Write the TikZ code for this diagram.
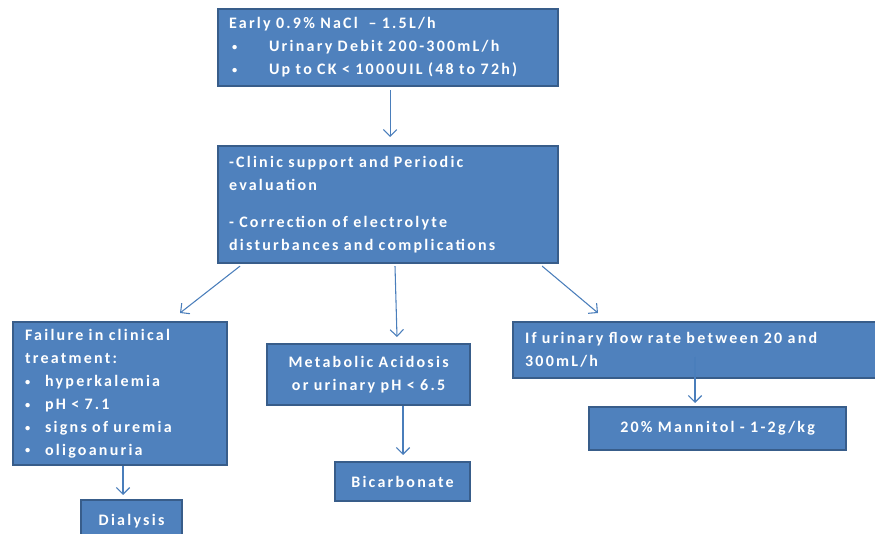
\documentclass[tikz,border=0pt]{standalone}
\usepackage{fontspec}
\newfontfamily\boxfont[LetterSpace=14]{Carlito}
\usepackage{tikz}
\usetikzlibrary{calc, arrows.meta}
\definecolor{boxblue}{HTML}{4F81BD}
\definecolor{boxedge}{HTML}{385D8A}
\definecolor{arrowblue}{HTML}{4A7EBB}
\newcommand{\boxtext}{\boxfont\bfseries\fontsize{12}{17.2}\selectfont\setlength{\spaceskip}{5.5pt plus 1pt}}
\newcommand{\bul}[1]{\makebox[#1][l]{\raisebox{0.15ex}{\scalebox{0.65}{•}}}}

\begin{document}
\begin{tikzpicture}[x=0.75pt, y=-0.75pt,
  box/.style={draw=boxedge, fill=boxblue, line width=1.6pt, text=white, anchor=north west,
    inner ysep=0pt, inner xsep=7.5pt, font=\boxtext},
  link/.style={arrowblue, line width=0.8pt, -{Straight Barb[length=5pt,width=10pt]}}]
\useasboundingbox (0,0) rectangle (875,534);

\node[box, align=left, inner xsep=8.25pt, text width=238.5pt, minimum height=57.75pt] (fluid) at (217,8)
  {Early 0.9\% NaCl\ \ – 1.5L/h\\
   \hspace{2.25pt}\bul{27.75pt}Urinary Debit 200-300mL/h\\
   \hspace{2.25pt}\bul{27.75pt}Up to CK < 1000UIL (48 to 72h)};
\node[box, align=left, inner xsep=8.25pt, text width=238.5pt, minimum height=87.75pt] (support) at (217,145)
  {-Clinic support and Periodic\\evaluation\\[11pt]
   - Correction of electrolyte\\disturbances and complications};
\node[box, align=left, inner xsep=9pt, text width=142.5pt, minimum height=107.25pt] (failure) at (12,321)
  {Failure in clinical\\treatment:\\
   \bul{15pt}hyperkalemia\\
   \bul{15pt}pH < 7.1\\
   \bul{15pt}signs of uremia\\
   \bul{15pt}oligoanuria};
\node[box, align=center, text width=137.25pt, minimum height=45.75pt] (acidosis) at (266,343)
  {Metabolic Acidosis\\or urinary pH < 6.5};
\node[box, align=left, inner xsep=9pt, text width=259.5pt, minimum height=42pt] (flow) at (512,321)
  {If urinary flow rate between 20 and\\300mL/h};
\node[box, align=center, text width=177.75pt, minimum height=32.25pt] (mannitol) at (588,406)
  {20\% Mannitol - 1-2g/kg};
\node[box, align=center, text width=86.25pt, minimum height=29.25pt] (bicarb) at (334,461)
  {Bicarbonate};
\node[box, align=center, text width=60.75pt, minimum height=31.5pt] (dialysis) at (80,499)
  {Dialysis};

\draw[link] ($(fluid.south)+(2,3)$) -- ($(support.north)+(2,-8)$);
\draw[link] ($(support.south west)+(23,2)$) -- ($(failure.north west)+(168,-8)$);
\draw[link] ($(support.south west)+(178,2)$) -- ($(acidosis.north west)+(131,-6)$);
\draw[link] ($(support.south east)+(-17,2)$) -- ($(flow.north west)+(86,-8)$);
\draw[link] ($(failure.south west)+(111,0)$) -- ($(dialysis.north west)+(43,-4)$);
\draw[link] ($(acidosis.south west)+(137,0)$) -- ($(bicarb.north west)+(69,-6)$);
\draw[link] ($(flow.north west)+(183,36)$) -- ($(mannitol.north west)+(107,-3)$);
\end{tikzpicture}
\end{document}
